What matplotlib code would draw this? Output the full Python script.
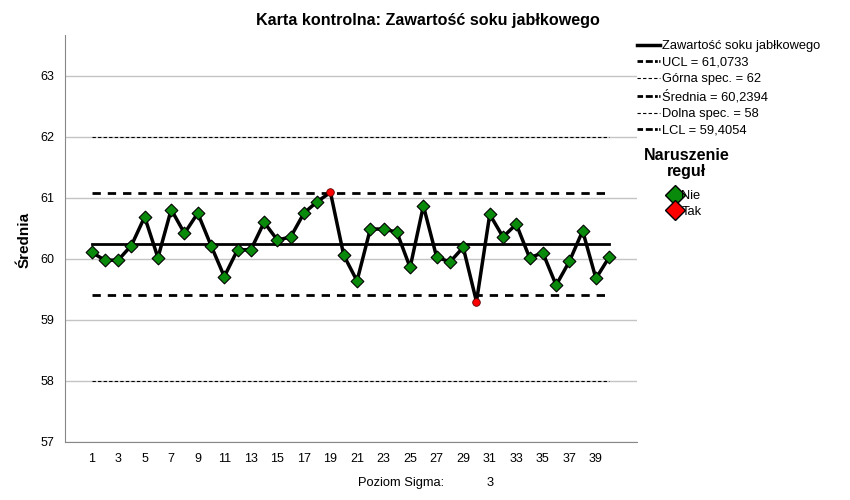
import numpy as np
import matplotlib.pyplot as plt
from matplotlib.lines import Line2D

plt.rcParams['font.family'] = ['Liberation Sans', 'DejaVu Sans']

# Data
samples = list(range(1, 41))
means = [60.11, 59.98, 59.98, 60.22, 60.69, 60.02, 60.81, 60.42, 60.75, 60.22,
         59.71, 60.15, 60.15, 60.60, 60.31, 60.36, 60.75, 60.94, 61.09, 60.06,
         59.64, 60.49, 60.49, 60.44, 59.86, 60.87, 60.03, 59.95, 60.19, 59.30,
         60.73, 60.36, 60.57, 60.02, 60.10, 59.57, 59.96, 60.46, 59.68, 60.03]
violation = [19, 30]
ucl = 61.0733
center = 60.2394
lcl = 59.4054
usl = 62
lsl = 58
y_ticks = [57, 58, 59, 60, 61, 62, 63]
x_ticks = list(range(1, 40, 2))

fig = plt.figure(figsize=(8.5, 5), dpi=100)
ax = fig.add_axes([0.0765, 0.116, 0.673, 0.814])

for y in y_ticks:
    ax.axhline(y, color='#c4c4c4', lw=1, zorder=0)

ax.plot([1, 40], [usl, usl], color='black', lw=0.8, ls=(0, (3, 2)), zorder=1)
ax.plot([1, 40], [lsl, lsl], color='black', lw=0.8, ls=(0, (3, 2)), zorder=1)
ax.plot([1, 40], [ucl, ucl], color='black', lw=2, ls=(0, (3, 2.5)), zorder=1)
ax.plot([1, 40], [lcl, lcl], color='black', lw=2, ls=(0, (3, 2.5)), zorder=1)
ax.plot([1, 40], [center, center], color='black', lw=2, zorder=1)

ax.plot(samples, means, color='black', lw=2.5, zorder=2)
ok_x = [s for s in samples if s not in violation]
ok_y = [m for s, m in zip(samples, means) if s not in violation]
bad_x = [s for s in samples if s in violation]
bad_y = [m for s, m in zip(samples, means) if s in violation]
ax.scatter(ok_x, ok_y, marker='D', s=42, color='#0a8a0a', edgecolor='black',
           linewidth=0.8, zorder=3)
ax.scatter(bad_x, bad_y, marker='o', s=30, color='#ff0000', edgecolor='#600000',
           linewidth=0.6, zorder=3)

ax.set_xlim(-1, 42.1)
ax.set_ylim(57, 63.67)
ax.set_xticks(x_ticks)
ax.set_yticks(y_ticks)
ax.tick_params(length=0, labelsize=9, pad=8)
for s in ['top', 'right']:
    ax.spines[s].set_visible(False)
for s in ['left', 'bottom']:
    ax.spines[s].set_color('#888888')

fig.text(0.029, 0.52, 'Średnia', rotation=90, ha='center', va='center',
         fontsize=11, fontweight='bold')
fig.text(0.504, 0.96, 'Karta kontrolna: Zawartość soku jabłkowego',
         ha='center', va='center', fontsize=11.6, fontweight='bold')
fig.text(0.421, 0.034, 'Poziom Sigma:', ha='left', va='center', fontsize=9.3)
fig.text(0.572, 0.034, '3', ha='left', va='center', fontsize=9.3)

dashdot = (0, (2, 1, 2.5, 0.8, 1, 0.5))
handles = [
    Line2D([], [], color='black', lw=2.5),
    Line2D([], [], color='black', lw=2, ls=dashdot),
    Line2D([], [], color='black', lw=0.8, ls=(0, (3, 2))),
    Line2D([], [], color='black', lw=2, ls=dashdot),
    Line2D([], [], color='black', lw=0.8, ls=(0, (3, 2))),
    Line2D([], [], color='black', lw=2, ls=dashdot),
]
labels = ['Zawartość soku jabłkowego', 'UCL = 61,0733', 'Górna spec. = 62',
          'Średnia = 60,2394', 'Dolna spec. = 58', 'LCL = 59,4054']
fig.legend(handles, labels, loc='upper left', bbox_to_anchor=(0.749, 0.92),
           frameon=False, fontsize=9.3, handlelength=1.8, handletextpad=0.2,
           labelspacing=0.36, borderpad=0, borderaxespad=0)

fig.text(0.808, 0.673, 'Naruszenie\nreguł', ha='center', va='center',
         fontsize=11.5, fontweight='bold', multialignment='center', linespacing=1.1)
h2 = [Line2D([], [], ls='none', marker='D', markersize=10, markerfacecolor='#0a8a0a',
             markeredgecolor='black'),
      Line2D([], [], ls='none', marker='D', markersize=10, markerfacecolor='#ff0000',
             markeredgecolor='black')]
fig.legend(h2, ['Nie', 'Tak'], loc='upper left', bbox_to_anchor=(0.787, 0.62),
           frameon=False, fontsize=9.3, handlelength=0.9, handletextpad=0.05,
           labelspacing=0.3, borderpad=0, borderaxespad=0)

fig.savefig('out.png', dpi=100)
